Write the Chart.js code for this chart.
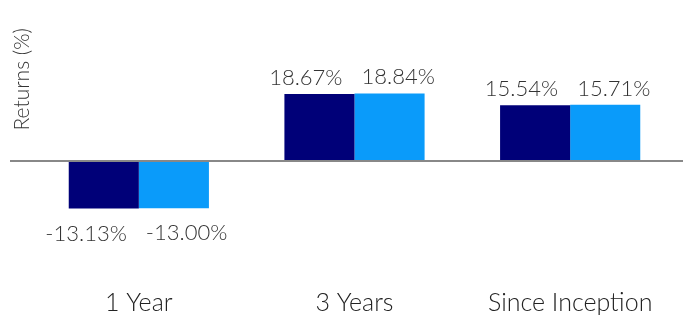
<!DOCTYPE html>
<html>
<head>
<meta charset="utf-8">
<script src="https://cdn.jsdelivr.net/npm/chart.js@4"></script>
<style>
  html, body { margin: 0; padding: 0; background: #fff; }
  #wrap { width: 683px; height: 315px; }
</style>
</head>
<body>
<div id="wrap"><canvas id="returnsChart"></canvas></div>
<script>
const categories = ["1 Year", "3 Years", "Since Inception"];
const fundReturns = [-13.13, 18.67, 15.54];
const benchReturns = [-13.00, 18.84, 15.71];
const seriesNames = ["Fund", "Benchmark"];

const FONT = "Lato, Roboto, sans-serif";

// value labels, pushed outward from the pair of bars
const valueLabels = {
  id: "valueLabels",
  afterDatasetsDraw(chart) {
    const ctx = chart.ctx;
    ctx.save();
    ctx.font = "300 22px " + FONT;
    ctx.fillStyle = "#333";
    ctx.textBaseline = "alphabetic";
    chart.data.datasets.forEach((ds, i) => {
      chart.getDatasetMeta(i).data.forEach((bar, j) => {
        const v = ds.data[j];
        const txt = v.toFixed(2) + "%";
        let x;
        if (i === 0) {
          ctx.textAlign = "right";
          x = bar.x + bar.width / 2 - 12;
        } else {
          ctx.textAlign = "left";
          x = bar.x - bar.width / 2 + 7;
        }
        const y = v >= 0 ? bar.y - 9 : bar.y + 32;
        ctx.fillText(txt, x, y);
      });
    });
    ctx.restore();
  }
};

// zero line across the whole width
const zeroLine = {
  id: "zeroLine",
  afterDatasetsDraw(chart) {
    const y = Math.round(chart.scales.y.getPixelForValue(0));
    const ctx = chart.ctx;
    ctx.save();
    ctx.strokeStyle = "#888";
    ctx.lineWidth = 2;
    ctx.beginPath();
    ctx.moveTo(10, y);
    ctx.lineTo(chart.width, y);
    ctx.stroke();
    ctx.restore();
  }
};

new Chart(document.getElementById("returnsChart"), {
  type: "bar",
  data: {
    labels: categories,
    datasets: [
      { label: seriesNames[0], data: fundReturns, backgroundColor: "#000078" },
      { label: seriesNames[1], data: benchReturns, backgroundColor: "#0a9bfa" }
    ]
  },
  options: {
    responsive: true,
    maintainAspectRatio: false,
    animation: false,
    layout: { padding: { left: 10, right: 5, top: 28, bottom: 0 } },
    datasets: { bar: { categoryPercentage: 0.65, barPercentage: 1.0 } },
    plugins: {
      legend: { display: false },
      tooltip: { enabled: false }
    },
    scales: {
      x: {
        grid: { display: false },
        border: { display: false },
        ticks: { color: "#222", font: { family: FONT, size: 25, weight: 300, lineHeight: 1 }, padding: 0 }
      },
      y: {
        min: -33.5,
        max: 37,
        grid: { display: false },
        border: { display: false },
        ticks: { display: false },
        afterFit(scale) { scale.width = 21; },
        title: {
          display: true,
          text: "Returns (%)",
          align: "end",
          color: "#333",
          font: { family: FONT, size: 21, weight: 300 },
          padding: { top: 0, bottom: 0 }
        }
      }
    }
  },
  plugins: [zeroLine, valueLabels]
});
</script>
</body>
</html>
